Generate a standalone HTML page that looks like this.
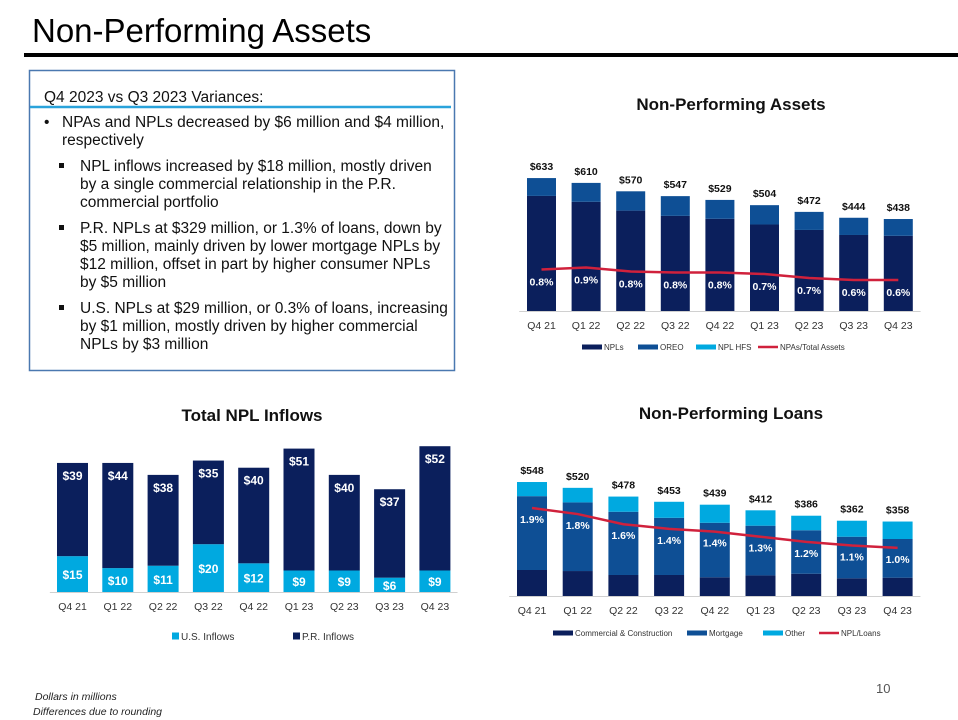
<!DOCTYPE html>
<html><head><meta charset="utf-8"><style>
body{margin:0;background:#fff;}
svg{display:block;font-family:"Liberation Sans",sans-serif;}
</style></head><body>
<svg id="s" width="958" height="720" viewBox="0 0 958 720" xmlns="http://www.w3.org/2000/svg">
<text x="32" y="42" font-size="33" fill="#000">Non-Performing Assets</text>
<rect x="24" y="53" width="934" height="4" fill="#000"/>
<g>
<rect x="29.5" y="70.5" width="425" height="300" fill="none" stroke="#4a78b0" stroke-width="1.5"/>
<line x1="30" y1="107" x2="451" y2="107" stroke="#2aa3db" stroke-width="2.5"/>
<g font-size="15.5" fill="#111">
<text x="44" y="102">Q4 2023 vs Q3 2023 Variances:</text>
<text x="44" y="127">•</text>
<text x="62" y="127">NPAs and NPLs decreased by $6 million and $4 million,</text>
<text x="62" y="145">respectively</text>
<rect x="59" y="163" width="5" height="5" fill="#111"/>
<text x="80" y="171">NPL inflows increased by $18 million, mostly driven</text>
<text x="80" y="189">by a single commercial relationship in the P.R.</text>
<text x="80" y="207">commercial portfolio</text>
<rect x="59" y="225" width="5" height="5" fill="#111"/>
<text x="80" y="233">P.R. NPLs at $329 million, or 1.3% of loans, down by</text>
<text x="80" y="251">$5 million, mainly driven by lower mortgage NPLs by</text>
<text x="80" y="269">$12 million, offset in part by higher consumer NPLs</text>
<text x="80" y="287">by $5 million</text>
<rect x="59" y="305" width="5" height="5" fill="#111"/>
<text x="80" y="313">U.S. NPLs at $29 million, or 0.3% of loans, increasing</text>
<text x="80" y="331">by $1 million, mostly driven by higher commercial</text>
<text x="80" y="349">NPLs by $3 million</text>
</g></g>
<text x="731" y="110" font-size="17" font-weight="bold" text-anchor="middle" fill="#111">Non-Performing Assets</text>
<text x="252" y="421" font-size="17" font-weight="bold" text-anchor="middle" fill="#111">Total NPL Inflows</text>
<text x="731" y="419" font-size="17" font-weight="bold" text-anchor="middle" fill="#111">Non-Performing Loans</text>
<g id="npa"></g>
<g id="inf"></g>
<g id="npl"></g>
<text x="876" y="693" font-size="13" fill="#555">10</text>
<text x="35" y="700" font-size="10.5" font-style="italic" fill="#222">Dollars in millions</text>
<text x="33" y="715" font-size="10.5" font-style="italic" fill="#222">Differences due to rounding</text>
</svg>
<script>
const quarters = ["Q4 21","Q1 22","Q2 22","Q3 22","Q4 22","Q1 23","Q2 23","Q3 23","Q4 23"];
const npaNPLs = [548,520,478,453,439,412,386,362,358];
const npaOREO = [85,90,92,94,90,92,86,82,80];
const npaHFS = [0,0,0,0,0,0,0,0,0];
const npaTotals = ["$633","$610","$570","$547","$529","$504","$472","$444","$438"];
const npaRatio = [0.83,0.87,0.79,0.77,0.77,0.74,0.66,0.62,0.62];
const npaRatioLabels = ["0.8%","0.9%","0.8%","0.8%","0.8%","0.7%","0.7%","0.6%","0.6%"];
const usInflows = [15,10,11,20,12,9,9,6,9];
const prInflows = [39,44,38,35,40,51,40,37,52];
const nplComm = [125,120,101,101,90,99,107,85,88];
const nplMort = [355,330,304,275,262,239,209,200,186];
const nplOther = [68,70,73,77,87,74,70,77,84];
const nplTotals = ["$548","$520","$478","$453","$439","$412","$386","$362","$358"];
const nplRatio = [1.9,1.77,1.55,1.45,1.39,1.28,1.17,1.09,1.04];
const nplRatioLabels = ["1.9%","1.8%","1.6%","1.4%","1.4%","1.3%","1.2%","1.1%","1.0%"];

const NS="http://www.w3.org/2000/svg";
const NAVY="#0b1f5c", MID="#0e4f95", LIGHT="#00a9e0", RED="#d0213c";
function mk(parent,tag,attrs,text){const e=document.createElementNS(NS,tag);for(const k in attrs)e.setAttribute(k,attrs[k]);if(text!==undefined)e.textContent=text;parent.appendChild(e);return e;}

function chart(opt){
  const g=document.getElementById(opt.id);
  const xC=i=>opt.x0+i*opt.step;
  const yV=v=>opt.base-v*opt.k;
  const yR=v=>opt.base-v*opt.rk;
  const ax=mk(g,'line',{x1:opt.x0-opt.step/2,x2:xC(quarters.length-1)+opt.step/2,y1:opt.base+0.5,y2:opt.base+0.5,stroke:'#d0d0d0'});
  
  
  quarters.forEach((q,i)=>{
    let cum=0;
    opt.series.forEach(s=>{
      const v=s.data[i]; if(v<=0) return;
      const r=mk(g,'rect',{x:xC(i)-opt.w/2,y:yV(cum+v),width:opt.w,height:v*opt.k,fill:s.color});
      
      
      if(s.label){
        const t=mk(g,'text',{x:xC(i),y:s.labelTop?yV(cum+v)+17:yV(cum+v/2)+5,'font-size':12,'font-weight':'bold',fill:'#fff','text-anchor':'middle'},'$'+v);
        
        
      }
      cum+=v;
    });
    if(opt.totals){
      const t=mk(g,'text',{x:xC(i),y:yV(cum)-8,'font-size':10.5,'font-weight':'bold',fill:'#111','text-anchor':'middle'},opt.totals[i]);
      
      
    }
    const c=mk(g,'text',{x:xC(i),y:opt.base+18,'font-size':10.5,fill:'#333','text-anchor':'middle'},q);
    
    
  });
  if(opt.ratio){
    const pts=opt.ratio.map((v,i)=>xC(i)+','+yR(v)).join(' ');
    const l=mk(g,'polyline',{points:pts,fill:'none',stroke:RED,'stroke-width':2.5});
    
    
    opt.ratio.forEach((v,i)=>{
      const t=mk(g,'text',{x:xC(i),y:yR(v)+opt.rOff,'font-size':10.5,'font-weight':'bold',fill:'#fff','text-anchor':'middle'},opt.ratioLabels[i]);
      
      
    });
  }
  // legend
  let lx=opt.legX;
  opt.legend.forEach(L=>{
    if(L.line){
      const m=mk(g,'line',{x1:lx,x2:lx+20,y1:opt.legY,y2:opt.legY,stroke:L.color,'stroke-width':2.5});
      
      
      lx+=22;
    } else {
      const m=mk(g,'rect',{x:lx,y:opt.legY-opt.ls/2,width:L.sw||opt.ls,height:opt.ls,fill:L.color});
      
      
      lx+=(L.sw||opt.ls)+2;
    }
    const t=mk(g,'text',{x:lx,y:opt.legY+opt.lfs/2-1,'font-size':opt.lfs,fill:'#333'},L.text);
    
    
    lx+=L.gap;
  });
}

chart({id:'npa',x0:541.5,step:44.6,w:29,base:311,k:0.21,rk:50,rOff:16,
  series:[{name:'npls',data:npaNPLs,color:NAVY},{name:'oreo',data:npaOREO,color:MID},{name:'npl-hfs',data:npaHFS,color:LIGHT}],
  totals:npaTotals,ratio:npaRatio,ratioLabels:npaRatioLabels,
  legX:582,legY:347,ls:5,lfs:8,
  legend:[{key:'npls',text:'NPLs',color:NAVY,sw:20,gap:34},{key:'oreo',text:'OREO',color:MID,sw:20,gap:36},{key:'npl-hfs',text:'NPL HFS',color:LIGHT,sw:20,gap:40},{key:'npa-ratio',text:'NPAs/Total Assets',color:RED,line:true,gap:80}]});

chart({id:'inf',x0:72.5,step:45.3,w:31,base:592,k:2.39,
  series:[{name:'us-inflows',data:usInflows,color:LIGHT,label:true},{name:'pr-inflows',data:prInflows,color:NAVY,label:true,labelTop:true}],
  legX:172,legY:636,ls:7,lfs:10,
  legend:[{key:'us-inflows',text:'U.S. Inflows',color:LIGHT,gap:112},{key:'pr-inflows',text:'P.R. Inflows',color:NAVY,gap:80}]});

chart({id:'npl',x0:532,step:45.7,w:30,base:596,k:0.208,rk:46.3,rOff:15,
  series:[{name:'commercial',data:nplComm,color:NAVY},{name:'mortgage',data:nplMort,color:MID},{name:'other',data:nplOther,color:LIGHT}],
  totals:nplTotals,ratio:nplRatio,ratioLabels:nplRatioLabels,
  legX:553,legY:633,ls:5,lfs:8,
  legend:[{key:'commercial',text:'Commercial & Construction',color:NAVY,sw:20,gap:112},{key:'mortgage',text:'Mortgage',color:MID,sw:20,gap:54},{key:'other',text:'Other',color:LIGHT,sw:20,gap:34},{key:'npl-ratio',text:'NPL/Loans',color:RED,line:true,gap:60}]});
</script>
</body></html>
